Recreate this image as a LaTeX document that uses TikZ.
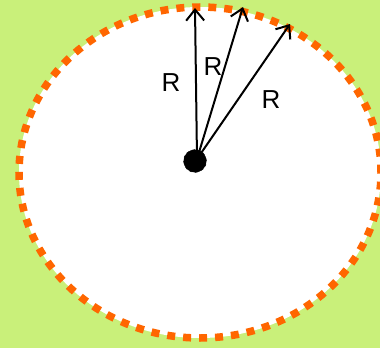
\documentclass[tikz,border=0pt]{standalone}
\usepackage{fontspec}
\setmainfont{Liberation Sans}
\usetikzlibrary{shapes.geometric, arrows.meta}

\definecolor{fieldgreen}{RGB}{201,240,122}
\definecolor{rimorange}{RGB}{255,102,0}

\begin{document}
\begin{tikzpicture}[
        x=1pt, y=-1pt,
        rim/.style={ellipse, draw=rimorange, fill=white, line width=7.5pt, dash pattern=on 8pt off 8pt, minimum width=362pt, minimum height=331pt, inner sep=0pt},
        hubdot/.style={circle, fill=black, draw=black, dashed, thin, minimum size=23pt, inner sep=0pt},
        radius/.style={-{Straight Barb[length=11pt, width=18pt]}, line width=2pt, draw=black},
        rlabel/.style={font=\fontsize{26}{30}\selectfont, text=black, inner sep=0pt}
    ]
        % Background
        \fill[fieldgreen] (0,0) rectangle (380,348);
        \useasboundingbox (0,0) rectangle (380,348);
        \clip (0,0) rectangle (380,348);

        % Circle of radius R
        \node[rim] (rim) at (200,172.5) {};

        % Centre
        \node[hubdot] (hub) at (195,161) {};

        % Ends of the radii
        \coordinate (tipA) at (195,8);
        \coordinate (tipB) at (243,7);
        \coordinate (tipC) at (290,24);

        % Radii
        \draw[radius] (hub.center) ++(2,-2) coordinate (foot) (foot) -- (tipA);
        \draw[radius] (foot) -- (tipB);
        \draw[radius] (foot) -- (tipC);

        % Labels
        \node[rlabel] (lblA) at (171,83) {R};
        \node[rlabel] (lblB) at (213,67) {R};
        \node[rlabel] (lblC) at (271,100) {R};

    \end{tikzpicture}
\end{document}
